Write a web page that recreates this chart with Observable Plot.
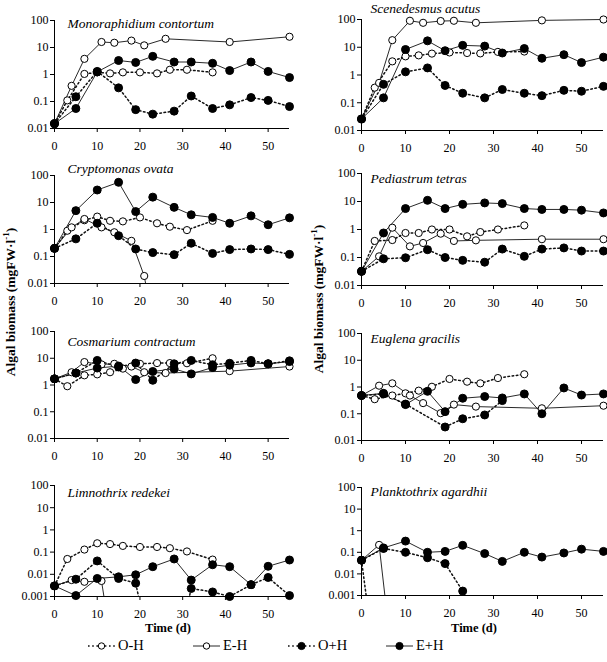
<!DOCTYPE html>
<html>
<head>
<meta charset="utf-8">
<script src="https://cdn.jsdelivr.net/npm/d3@7"></script>
<script src="https://cdn.jsdelivr.net/npm/@observablehq/plot@0.6"></script>
<style>
  body { margin: 0; background: white; }
  #root { position: relative; width: 607px; height: 662px; background: white; font-family: "Liberation Serif", "Times New Roman", serif; color: black; }
  .abs { position: absolute; white-space: nowrap; }
  #root svg text { font-family: "Liberation Serif", "Times New Roman", serif; }
</style>
</head>
<body>
<div id="root"></div>
<script>
// ---------- data ----------
const seriesNames = ["O-H", "E-H", "O+H", "E+H"];
const daysOH = [0, 3, 7, 10, 13, 16, 20, 24, 27, 31, 37];
const daysEH = [0, 4, 7, 11, 14, 18, 21, 26, 41, 55];
const daysH  = [0, 5, 10, 15, 19, 23, 28, 32, 37, 41, 46, 50, 55];
const xTicks = [0, 10, 20, 30, 40, 50];
const yTicks4 = [0.01, 0.1, 1, 10, 100];
const yTicks5 = [0.001, 0.01, 0.1, 1, 10, 100];
const titles = ["Monoraphidium contortum", "Scenedesmus acutus", "Cryptomonas ovata", "Pediastrum tetras",
                "Cosmarium contractum", "Euglena gracilis", "Limnothrix redekei", "Planktothrix agardhii"];

// values (mgFW/l); 0 = population lost, null = not sampled
const mono_OH = [0.015, 0.11, 1.05, 1.2, 1.1, 1.2, 1.2, 1.1, 1.5, 1.5, 1.2];
const mono_EH = [0.015, 0.38, 3.8, 16, 15, 18, 12, 21, 16, 25];
const mono_OpH = [0.015, 0.15, 1.3, 0.32, 0.05, 0.034, 0.044, 0.16, 0.055, 0.075, 0.14, 0.11, 0.065];
const mono_EpH = [0.015, 0.055, 1.25, 3.3, 2.8, 4.7, 2.9, 2.9, 2.6, 1.4, 2.9, 1.3, 0.77];

const scen_OH = [0.026, 0.35, 3.1, 4.7, 5.1, 5.9, 6.5, 6.2, 6.0, 6.8, 7.0];
const scen_EH = [0.026, 0.52, 18, 90, 76, 88, 90, 76, 93, 100];
const scen_OpH = [0.026, 0.46, 1.3, 1.8, 0.42, 0.22, 0.15, 0.3, 0.22, 0.18, 0.28, 0.26, 0.39];
const scen_EpH = [0.026, 0.15, 8.3, 17, 7.5, 11.7, 11, 6.2, 9, 4, 5.4, 2.8, 4.4];

const cryp_OH = [0.2, 0.9, 2.2, 3.0, 2.1, 2.0, 2.8, 1.7, 1.27, 0.95, 2.1];
const cryp_EH = [0.2, 1.2, 2.45, 1.2, 0.79, 0.38, 0.019, 0, null, null];
const cryp_OpH = [0.2, 0.45, 1.7, 0.59, 0.19, 0.14, 0.117, 0.31, 0.13, 0.18, 0.19, 0.18, 0.12];
const cryp_EpH = [0.2, 5.0, 29, 56, 4.6, 15.8, 6.6, 3.5, 2.8, 1.7, 3.2, 1.5, 2.7];

const pedi_OH = [0.032, 0.39, 0.42, 0.75, 0.75, 1.0, 1.0, 0.57, 0.81, 1.0, 1.4];
const pedi_EH = [0.032, 0.11, 1.16, 0.25, 0.33, 0.71, 0.39, 0.41, 0.45, 0.45];
const pedi_OpH = [0.032, 0.09, 0.098, 0.19, 0.10, 0.079, 0.068, 0.2, 0.11, 0.2, 0.22, 0.17, 0.17];
const pedi_EpH = [0.032, 0.75, 5.6, 11, 5.6, 7.9, 8.9, 8.4, 5.6, 5.2, 5.2, 4.9, 3.9];

const cosm_OH = [1.7, 0.9, 2.3, 2.5, 3.0, 4.1, 6.2, 6.6, 6.6, 6.5, 10];
const cosm_EH = [1.7, 3.0, 7.2, 5.9, 6.2, 4.9, 3.0, 2.8, 3.3, 4.9];
const cosm_OpH = [1.7, 2.8, 8.3, 4.7, 6.6, 1.5, 6.2, 8.3, 5.7, 6.5, 8.3, 6.2, 8.0];
const cosm_EpH = [1.7, 2.8, 4.3, 5.1, 1.6, 3.2, 4.0, 2.6, 4.5, 5.5, 6.7, 6.2, 7.5];

const eugl_OH = [0.48, 0.35, 0.48, 0.58, 0.73, 1.02, 2.0, 1.58, 1.37, 2.16, 3.0];
const eugl_EH = [0.48, 1.12, 1.37, 0.48, 0.25, 0.105, 0.22, 0.185, 0.16, 0.2];
const eugl_OpH = [0.48, 0.55, 0.23, null, 0.032, 0.065, 0.09, 0.31, null, null, null, null, null];
const eugl_EpH = [0.48, 0.58, 0.22, 0.69, 0.12, 0.38, 0.44, 0.39, 0.55, 0.1, 0.92, 0.5, 0.55];

const limn_OH = [0.003, 0.049, 0.13, 0.25, 0.23, 0.19, 0.17, 0.17, 0.15, 0.107, 0.046];
const limn_EH = [0.003, 0.0055, 0.0046, 0.005, 0, null, null, null, null, null];
const limn_OpH = [0.003, 0.006, 0.04, 0.0065, 0.004, 0, 0, 0.0023, 0.0016, 0.001, 0.0034, 0.0072, 0.0011];
const limn_EpH = [0.003, 0.0011, 0.0065, 0.0077, 0.0095, 0.022, 0.049, 0.0055, 0.027, 0.022, 0.0034, 0.023, 0.044];

const plan_OH = [0.043, 0, null, null, null, null, null, null, null, null, null];
const plan_EH = [0.043, 0.22, 0, null, null, null, null, null, null, null];
const plan_OpH = [0.043, 0.15, 0.1, 0.056, 0.03, 0.0016, null, null, null, null, null, null, null];
const plan_EpH = [0.043, 0.16, 0.33, 0.1, 0.11, 0.21, 0.087, 0.038, 0.1, 0.06, 0.093, 0.14, 0.11];

const panelValues = [
  [mono_OH, mono_EH, mono_OpH, mono_EpH],
  [scen_OH, scen_EH, scen_OpH, scen_EpH],
  [cryp_OH, cryp_EH, cryp_OpH, cryp_EpH],
  [pedi_OH, pedi_EH, pedi_OpH, pedi_EpH],
  [cosm_OH, cosm_EH, cosm_OpH, cosm_EpH],
  [eugl_OH, eugl_EH, eugl_OpH, eugl_EpH],
  [limn_OH, limn_EH, limn_OpH, limn_EpH],
  [plan_OH, plan_EH, plan_OpH, plan_EpH]
];
const seriesDays = [daysOH, daysEH, daysH, daysH];

// ---------- layout ----------
const FONT = "Liberation Serif";
const colGeom = [
  {left: 0, width: 300, fx0: 54, fx1: 289, titleDx: 13},
  {left: 300, width: 307, fx0: 361, fx1: 603, titleDx: 9}
];
const rowGeom = [ // [fy0, fy1] for left & right
  [[20, 128], [19, 130]],
  [[175, 283], [173, 285]],
  [[331, 438], [333, 440]],
  [[485, 596], [487, 595]]
];
const titleDy = [3, -11, -7, 5, 10, 5, 7, 4];
const FLOOR = 1e-6;
const styles = {
  "O-H": {dash: "1.6,2.6", width: 1.5, fill: "white"},
  "E-H": {dash: null, width: 0.9, fill: "white"},
  "O+H": {dash: "1.6,2.6", width: 1.5, fill: "black"},
  "E+H": {dash: null, width: 0.9, fill: "black"}
};

const root = document.getElementById("root");

for (let p = 0; p < 8; p++) {
  const col = colGeom[p % 2];
  const [fy0, fy1] = rowGeom[Math.floor(p / 2)][p % 2];
  const bottomRow = p >= 6;
  const ymin = bottomRow ? 0.001 : 0.01;
  const mt = 24, mb = 28;
  const marks = [];
  const allData = [];
  seriesNames.forEach((s, k) => {
    const vals = panelValues[p][k];
    const data = vals.map((v, i) => ({day: seriesDays[k][i], v, s})).filter(d => d.v != null);
    allData.push(data);
    const st = styles[s];
    marks.push(Plot.line(data, {
      x: "day", y: d => (d.v > 0 ? d.v : FLOOR),
      stroke: "#111", strokeWidth: st.width, strokeDasharray: st.dash, clip: true
    }));
  });
  seriesNames.forEach((s, k) => {
    const st = styles[s];
    const pts = allData[k].filter(d => d.v > 0);
    marks.push(Plot.dot(pts, {
      x: "day", y: "v", r: st.fill === "black" ? 4 : 3.6,
      fill: st.fill, stroke: "black", strokeWidth: 1
    }));
  });
  marks.push(Plot.ruleX([0], {stroke: "black", strokeWidth: 1}));
  marks.push(Plot.ruleY([ymin], {stroke: "black", strokeWidth: 1}));
  marks.push(Plot.axisY({ticks: bottomRow ? yTicks5 : yTicks4, tickFormat: d => String(d),
    tickSize: 4, tickPadding: 2, label: null, fontSize: 12, fontFamily: FONT}));
  marks.push(Plot.axisX({ticks: xTicks, tickFormat: d => String(d), tickSize: 4, tickPadding: 9,
    label: null, fontSize: 12, fontFamily: FONT}));
  marks.push(Plot.text([titles[p]], {
    frameAnchor: "top-left", text: d => d, dx: col.titleDx, dy: titleDy[p],
    textAnchor: "start", lineAnchor: "middle", fontStyle: "italic", fontSize: 13.5, fontFamily: FONT
  }));

  const svg = Plot.plot({
    width: col.width,
    height: (fy1 - fy0) + mt + mb,
    marginLeft: col.fx0 - col.left,
    marginRight: col.left + col.width - col.fx1,
    marginTop: mt,
    marginBottom: mb,
    style: {fontFamily: FONT, fontSize: "12px",
            background: "transparent", overflow: "visible", color: "black"},
    x: {domain: [0, 55]},
    y: {type: "log", domain: [ymin, 100]},
    marks
  });
  svg.setAttribute("font-family", FONT);
  svg.style.position = "absolute";
  svg.style.left = col.left + "px";
  svg.style.top = (fy0 - mt) + "px";
  root.appendChild(svg);
}

// axis titles
function addText(txt, x, y, css, rotate) {
  const d = document.createElement("div");
  d.className = "abs";
  d.innerHTML = txt;
  Object.assign(d.style, css);
  d.style.left = x + "px";
  d.style.top = y + "px";
  d.style.transform = "translate(-50%,-50%)" + (rotate ? " rotate(-90deg)" : "");
  root.appendChild(d);
}
const yLabel = "Algal biomass (mgFW·l<sup style='font-size:0.65em'>-1</sup>)";
addText(yLabel, 10, 302, {fontWeight: "bold", fontSize: "13.5px"}, true);
addText(yLabel, 318, 299, {fontWeight: "bold", fontSize: "13.5px"}, true);
addText("Time (d)", 168, 628, {fontWeight: "bold", fontSize: "12.5px"}, false);
addText("Time (d)", 474, 628, {fontWeight: "bold", fontSize: "12.5px"}, false);

// legend
const legendX = [88, 193, 288, 386];
seriesNames.forEach((s, k) => {
  const st = styles[s];
  const item = document.createElement("div");
  item.className = "abs";
  item.style.left = legendX[k] + "px";
  item.style.top = "637px";
  item.style.display = "flex";
  item.style.alignItems = "center";
  item.style.fontSize = "14.5px";
  item.innerHTML =
    `<svg width="27" height="16" style="margin-right:3px"><line x1="0" y1="8" x2="27" y2="8" stroke="#111" stroke-width="${st.width}" ${st.dash ? `stroke-dasharray="${st.dash}"` : ""}/>` +
    `<circle cx="13.5" cy="8" r="${st.fill === "black" ? 3.6 : 3.2}" fill="${st.fill}" stroke="black"/></svg><span>${s}</span>`;
  root.appendChild(item);
});
</script>
</body>
</html>
